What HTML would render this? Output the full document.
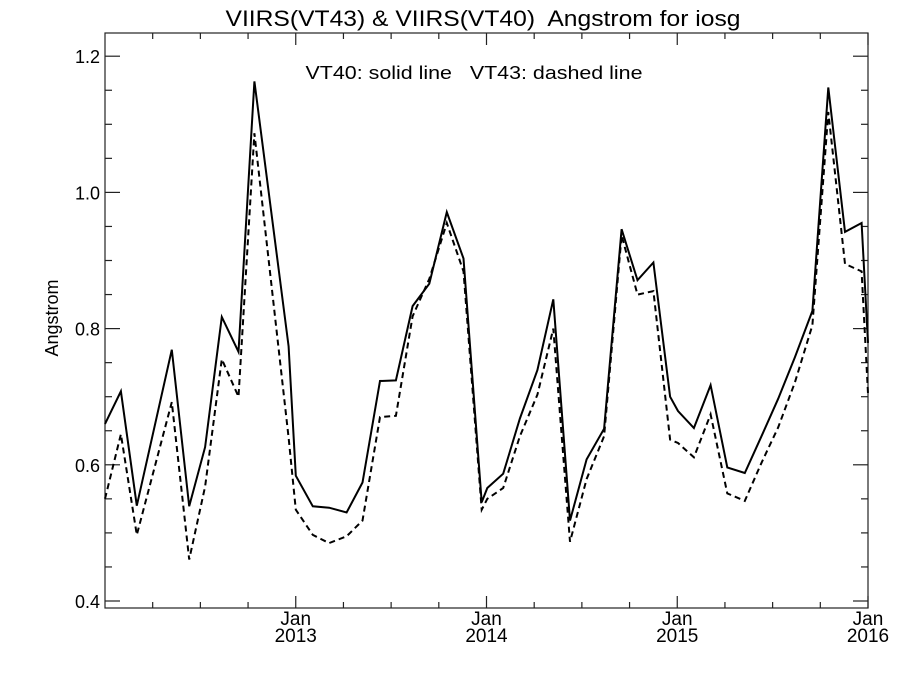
<!DOCTYPE html>
<html><head><meta charset="utf-8"><style>
body{margin:0;background:#fff;}
svg{display:block;font-family:"Liberation Sans",sans-serif;}
</style></head><body>
<svg id="chart" width="900" height="675" viewBox="0 0 900 675" xmlns="http://www.w3.org/2000/svg">
<text x="483" y="26" font-size="22" text-anchor="middle" xml:space="preserve" textLength="515" lengthAdjust="spacingAndGlyphs">VIIRS(VT43) &amp; VIIRS(VT40)  Angstrom for iosg</text>
<text x="474" y="79" font-size="18" text-anchor="middle" xml:space="preserve" textLength="337" lengthAdjust="spacingAndGlyphs">VT40: solid line   VT43: dashed line</text>
<text transform="translate(58,318) rotate(-90)" font-size="18" text-anchor="middle">Angstrom</text>
<rect x="105" y="33" width="763" height="575" fill="none" stroke="#222" stroke-width="1.2"/>
<g id="axes"></g>
<g id="series"></g>
</svg>
<script>
// months since Jan 2012
const monthsVT40 = [0,1,2,4.2,5.3,6.3,7.35,8.4,9.4,11.55,12,13.07,14.1,15.2,16.2,17.3,18.3,19.35,20.4,21.5,22.55,23.7,24.05,25.05,26.1,27.2,28.2,29.25,30.3,31.4,32.5,33.5,34.5,35.55,36.05,37.05,38.1,39.15,40.25,41.3,42.35,43.4,44.5,45.5,46.55,47.6,48];
const valuesVT40 = [0.660,0.708,0.540,0.769,0.539,0.626,0.817,0.766,1.163,0.774,0.584,0.539,0.537,0.530,0.574,0.723,0.724,0.833,0.866,0.971,0.903,0.545,0.566,0.587,0.668,0.739,0.843,0.518,0.608,0.653,0.946,0.871,0.897,0.700,0.679,0.654,0.717,0.596,0.588,0.642,0.697,0.758,0.826,1.154,0.942,0.955,0.779];
const monthsVT43 = monthsVT40;
const valuesVT43 = [0.550,0.645,0.497,0.692,0.461,0.568,0.755,0.700,1.087,0.640,0.534,0.497,0.485,0.495,0.518,0.670,0.672,0.818,0.873,0.955,0.884,0.534,0.550,0.566,0.642,0.703,0.800,0.487,0.579,0.642,0.937,0.850,0.855,0.637,0.632,0.611,0.674,0.558,0.547,0.603,0.655,0.721,0.805,1.118,0.895,0.884,0.705];
const yTickLabels = ["0.4","0.6","0.8","1.0","1.2"];
const xTickYears = ["2013","2014","2015","2016"];

const L=105,R=868,T=33,B=608;
const X0=0,X1=48;
function xs(m){return L+(m-X0)/(X1-X0)*(R-L);}
function ys(v){return 601-(v-0.4)*681;}
const NS="http://www.w3.org/2000/svg";
const axes=document.getElementById('axes');
function line(x1,y1,x2,y2,name){
  const l=document.createElementNS(NS,'line');
  l.setAttribute('x1',x1);l.setAttribute('y1',y1);l.setAttribute('x2',x2);l.setAttribute('y2',y2);
  l.setAttribute('stroke','#222');l.setAttribute('stroke-width','1.2');
  
  
  axes.appendChild(l);
}
for(let i=0;i<=16;i++){
  const v=0.4+i*0.05; const y=ys(v); if(y<T) continue;
  const major=(i%4===0); const len=major?15:7;
  line(L,y,L+len,y,'y-tick');
  line(R,y,R-len,y,'y-tick');
}
yTickLabels.forEach(s=>{
  const t=document.createElementNS(NS,'text');
  t.setAttribute('x',100);t.setAttribute('y',ys(parseFloat(s))+7);
  t.setAttribute('font-size','18');t.setAttribute('text-anchor','end');
  t.textContent=s;
  
  
  axes.appendChild(t);
});
for(let m=3;m<=48;m+=3){
  const x=xs(m); const major=(m%12===0); const len=major?12:6;
  line(x,B,x,B-len,'x-tick');
  line(x,T,x,T+len,'x-tick');
}
xTickYears.forEach((yr,i)=>{
  const x=xs(12*(i+1));
  const t1=document.createElementNS(NS,'text');
  t1.setAttribute('x',x);t1.setAttribute('y',625);t1.setAttribute('font-size','19');t1.setAttribute('text-anchor','middle');
  t1.textContent='Jan';
  
  
  axes.appendChild(t1);
  const t2=document.createElementNS(NS,'text');
  t2.setAttribute('x',x);t2.setAttribute('y',642);t2.setAttribute('font-size','19');t2.setAttribute('text-anchor','middle');
  t2.textContent=yr;
  
  
  axes.appendChild(t2);
});
const series=document.getElementById('series');
function drawSeries(ms,vs,dash,name){
  const p=document.createElementNS(NS,'polyline');
  p.setAttribute('points',ms.map((m,i)=>xs(m).toFixed(1)+','+ys(vs[i]).toFixed(1)).join(' '));
  p.setAttribute('fill','none');p.setAttribute('stroke','#000');p.setAttribute('stroke-width','2');
  if(dash) p.setAttribute('stroke-dasharray','6,4');
  
  
  series.appendChild(p);
}
drawSeries(monthsVT40,valuesVT40,false,'vt40-solid-line');
drawSeries(monthsVT43,valuesVT43,true,'vt43-dashed-line');
</script>
</body></html>
